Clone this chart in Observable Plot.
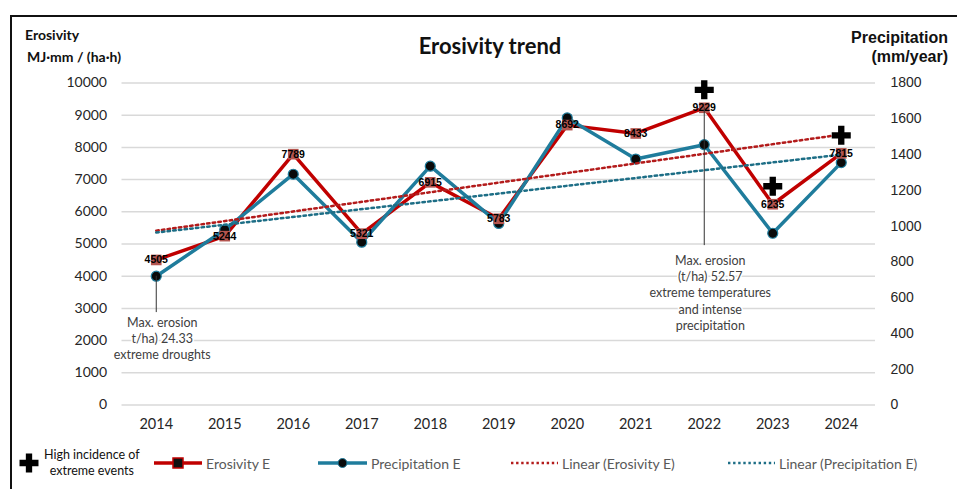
<!DOCTYPE html>
<html>
<head>
<meta charset="utf-8">
<script src="https://cdn.jsdelivr.net/npm/d3@7"></script>
<script src="https://cdn.jsdelivr.net/npm/@observablehq/plot@0.6"></script>
<style>
  html, body { margin: 0; padding: 0; background: #fff; }
  body { width: 957px; height: 489px; position: relative; overflow: hidden; font-family: Lato, "Noto Sans", sans-serif; }
  #frame { position: absolute; left: 10px; top: 15px; right: -5px; bottom: -5px; border-left: 2px solid #111; border-top: 2px solid #111; pointer-events: none; z-index: 5; }
  #chart { position: absolute; left: 0; top: 0; }
  .abs { position: absolute; white-space: nowrap; }
  #title { left: 0; width: 980px; text-align: center; top: 32px; font-size: 22px; font-weight: 700; color: #111; }
  .ltitle { left: 25px; font-size: 14px; font-weight: 700; color: #111; }
  .rtitle { right: 9px; text-align: right; font-family: "Liberation Sans", Arial, sans-serif; font-size: 16px; font-weight: 700; color: #111; line-height: 19px; top: 28px; }
  .leg { position: absolute; top: 453px; height: 20px; display: flex; align-items: center; font-size: 14px; color: #595959; }
  .leg svg { display: block; margin-right: 4px; }
  #legplus { left: 18px; top: 446px; height: 34px; font-size: 12.5px; color: #111; }
  #legplus div { text-align: center; line-height: 16px; }
</style>
</head>
<body>
<div id="chart"></div>
<div id="frame"></div>
<div id="title" class="abs">Erosivity trend</div>
<div class="abs ltitle" style="top:26px">Erosivity</div>
<div class="abs ltitle" style="top:48px;left:27px">MJ·mm / (ha·h)</div>
<div class="abs rtitle">Precipitation<br>(mm/year)</div>
<div id="legend"></div>
<script>
// ---- data ----
const years = [2014, 2015, 2016, 2017, 2018, 2019, 2020, 2021, 2022, 2023, 2024];
const erosivity = [4505, 5244, 7789, 5321, 6915, 5783, 8692, 8433, 9229, 6235, 7815];
const precipitation = [720, 980, 1290, 910, 1335, 1015, 1605, 1375, 1455, 960, 1355];
const extremeYears = [2022, 2023, 2024];
const leftTicks = [0, 1000, 2000, 3000, 4000, 5000, 6000, 7000, 8000, 9000, 10000];
const rightTicks = [0, 200, 400, 600, 800, 1000, 1200, 1400, 1600, 1800];
const noteYears = [2014, 2022];
const noteTexts = [
  "Max. erosion\nt/ha) 24.33\nextreme droughts",
  "Max. erosion\n(t/ha) 52.57\nextreme temperatures\nand intense\nprecipitation"
];

// ---- colours ----
const RED = "#c00000";
const BLUE = "#1f7c9c";
const RED_T = "#b31b1b";
const BLUE_T = "#1d6e86";

// dual axis: precipitation (0–1800) shares the plot with erosivity (0–10000)
const k = 10000 / 1800;

const data = years.map((y, i) => ({year: y, ero: erosivity[i], pre: precipitation[i], preL: precipitation[i] * k}));
const extremes = data.filter(d => extremeYears.includes(d.year));

// annotation anchors (in erosivity units)
const notes = [
  {year: noteYears[0], from: data[0].preL, to: 2870, top: 2790, text: noteTexts[0]},
  {year: noteYears[1], from: data[8].ero, to: 4950, top: 4710, text: noteTexts[1]}
];

const chart = Plot.plot({
  width: 957,
  height: 440,
  marginLeft: 121.5,
  marginRight: 82,
  marginTop: 82.5,
  marginBottom: 35.5,
  style: {background: "transparent", fontFamily: "Lato, 'Noto Sans', sans-serif", fontSize: "14px", color: "#262626"},
  x: {type: "linear", domain: [2013.5, 2024.5]},
  y: {domain: [0, 10000]},
  marks: [
    Plot.gridY(leftTicks, {stroke: "#d9d9d9", strokeOpacity: 1, strokeWidth: 1.5}),
    Plot.axisY(leftTicks, {tickSize: 0, tickPadding: 15, label: null, fontSize: 14, tickFormat: d => String(d)}),
    Plot.axisY(rightTicks.map(v => v * k), {anchor: "right", tickSize: 0, tickPadding: 15, label: null,
      tickFormat: v => String(Math.round(v / k)), fontFamily: "'Liberation Sans', Arial, sans-serif", fontSize: 14}),
    Plot.axisX(years, {tickSize: 0, tickPadding: 14, label: null, tickFormat: d => String(d), fontSize: 14.5}),
    Plot.line(data, {x: "year", y: "ero", stroke: RED, strokeWidth: 3.5}),
    Plot.line(data, {x: "year", y: "preL", stroke: BLUE, strokeWidth: 3.5}),
    Plot.dot(data, {x: "year", y: "preL", r: 5, fill: "#0a0a0a", stroke: BLUE, strokeWidth: 1.2}),
    Plot.dot(data, {x: "year", y: "ero", symbol: "square", r: 6, fill: "#b4554f", stroke: "none"}),
    Plot.linearRegressionY(data, {x: "year", y: "ero", stroke: RED_T, strokeWidth: 2.5, strokeDasharray: "2.5 3.2", ci: 0}),
    Plot.linearRegressionY(data, {x: "year", y: "preL", stroke: BLUE_T, strokeWidth: 2.5, strokeDasharray: "2.5 3.2", ci: 0}),
    Plot.text(data, {x: "year", y: "ero", text: d => String(d.ero), fill: "#000", fontSize: 10.5, fontWeight: 600,
      fontFamily: "'Liberation Sans', Arial, sans-serif"}),
    Plot.dot(extremes, {x: "year", y: "ero", symbol: "cross", r: 8, fill: "#000", dy: -18}),
    Plot.ruleX(notes, {x: "year", y1: "from", y2: "to", stroke: "#333", strokeWidth: 1}),
    Plot.text(notes, {x: "year", y: "top", dx: 6, text: "text", lineAnchor: "top", lineHeight: 1.3,
      fontSize: 12.5, fill: "#404040", stroke: "white", strokeWidth: 3, textAnchor: "middle"})
  ]
});
document.getElementById("chart").append(chart);

// ---- legend (HTML) ----
const legend = document.getElementById("legend");
function sw(svgInner, w) {
  return `<svg width="${w}" height="14" viewBox="0 0 ${w} 14">${svgInner}</svg>`;
}
const crossPath = d3.symbol(d3.symbolCross, 200)();
const items = [
  {left: 18, html: `<svg width="22" height="22" viewBox="-11 -11 22 22"><path d="${crossPath}" fill="#000"/></svg><div>High incidence of<br>extreme events</div>`, id: "legplus"},
  {left: 154, html: sw(`<line x1="0" y1="7" x2="48" y2="7" stroke="${RED}" stroke-width="3.5"/><rect x="19" y="2" width="10" height="10" fill="#111" stroke="${RED}" stroke-width="1.5"/>`, 48) + `<span>Erosivity E</span>`},
  {left: 318, html: sw(`<line x1="0" y1="7" x2="49" y2="7" stroke="${BLUE}" stroke-width="3.5"/><circle cx="24.5" cy="7" r="4.5" fill="#0a0a0a" stroke="${BLUE}" stroke-width="1"/>`, 49) + `<span>Precipitation E</span>`},
  {left: 511, html: sw(`<line x1="0" y1="7" x2="47" y2="7" stroke="${RED_T}" stroke-width="2.4" stroke-dasharray="2.4 2.7"/>`, 47) + `<span>Linear (Erosivity E)</span>`},
  {left: 728, html: sw(`<line x1="0" y1="7" x2="47" y2="7" stroke="${BLUE_T}" stroke-width="2.4" stroke-dasharray="2.4 2.7"/>`, 47) + `<span>Linear (Precipitation E)</span>`}
];
for (const it of items) {
  const d = document.createElement("div");
  d.className = "leg";
  if (it.id) d.id = it.id;
  d.style.left = it.left + "px";
  d.innerHTML = it.html;
  legend.append(d);
}
</script>
</body>
</html>
